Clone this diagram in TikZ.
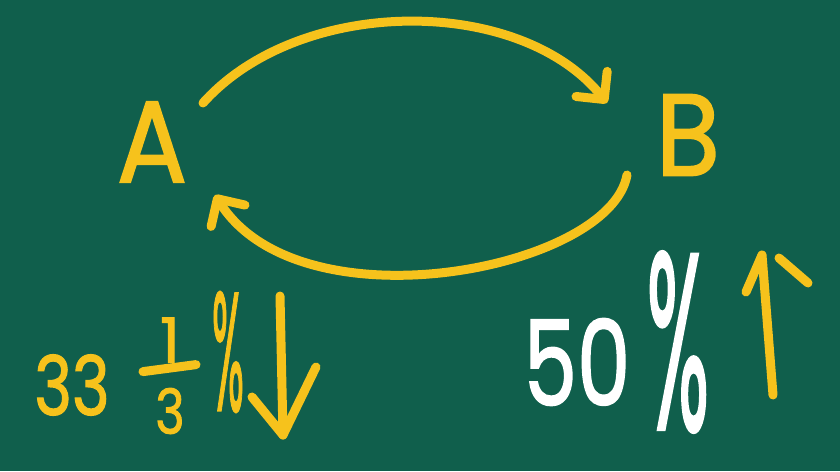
\documentclass[tikz,border=0pt]{standalone}
\usepackage{fontspec}
\setmainfont{Poppins}
\newfontfamily\chalkfont[FakeBold=1.6]{Poppins}
\usetikzlibrary{arrows.meta,calc}
\definecolor{board}{HTML}{105F4C}
\definecolor{chalkY}{HTML}{F6C21C}
\begin{document}
\begin{tikzpicture}[x=1pt,y=-1pt,
  yel/.style={draw=chalkY, line width=9pt, line cap=round, line join=round},
  lab/.style={text=chalkY, inner sep=0pt, font=\fontsize{116}{116}\chalkfont},
  ynum/.style={text=chalkY, inner sep=0pt},
  wnum/.style={text=white, inner sep=0pt},
  tip/.style={-{Straight Barb[length=20pt,width=40pt,line cap=round,line join=round]}}]
\fill[board] (0,0) rectangle (840,471);
\useasboundingbox (0,0) rectangle (840,471);
% letters
\node[lab] (A) at (152,142) {\scalebox{0.9}[1]{A}};
\node[lab] (B) at (688,135) {\scalebox{0.9}[1]{B}};
% arcs
\draw[yel,tip] ($(A.center)+(51,-39)$) .. controls (300,-5) and (520,-5) .. ($(B.center)+(-81,-32)$);
\draw[yel,tip] ($(B.center)+(-61,40)$) .. controls (610,270) and (300,330) .. ($(A.center)+(63,53)$);
% 33 1/3 %
\node[ynum, font=\fontsize{82}{82}\chalkfont] (t33) at (72,385) {\scalebox{0.78}[1]{33}};
\node[ynum, font=\fontsize{62}{62}\chalkfont] (fn) at (170,340) {1};
\node[ynum, font=\fontsize{62}{62}\chalkfont] (fd) at (170,411) {\scalebox{0.8}[1]{3}};
\draw[yel] ($(fn.south)+(-27,9)$) -- ($(fn.south)+(26,2)$);
\node[ynum, font=\fontsize{76}{76}\chalkfont] (p1) at (228,352) {\scalebox{0.55}[2.2]{\%}};
\coordinate (d1) at (280,296);
\coordinate (d2) at (283,435);
\coordinate (dl) at (252,397);
\coordinate (dr) at (316,367);
\draw[yel] (d1) -- (d2);
\draw[yel] (dl) -- (d2) -- (dr);
% 50 %
\node[wnum, font=\fontsize{118}{118}\chalkfont] (t50) at (577,362) {\scalebox{0.72}[1]{50}};
\node[wnum, font=\fontsize{100}{100}\chalkfont] (p2) at (678,342) {\scalebox{0.82}[2.5]{\%}};
\coordinate (u1) at (773,395);
\coordinate (u2) at (762,255);
\coordinate (ul) at (746,292);
\coordinate (ur1) at (779,258);
\coordinate (ur2) at (808,283);
\draw[yel] (u1) -- (u2);
\draw[yel] (ul) -- (u2);
\draw[yel] (ur1) -- (ur2);
\end{tikzpicture}
\end{document}
